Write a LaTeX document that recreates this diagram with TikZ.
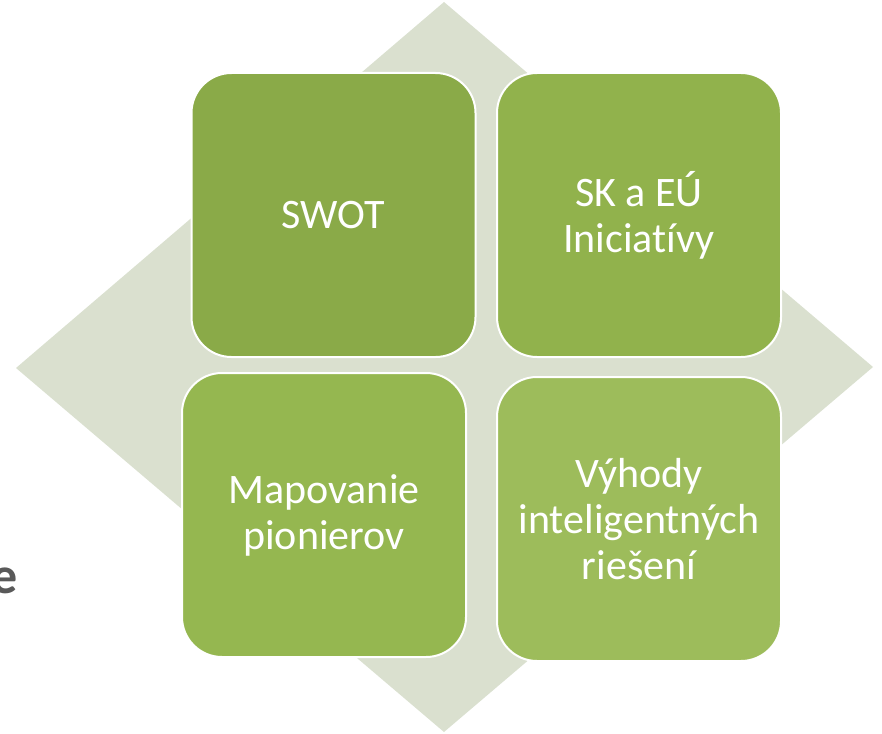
\documentclass[tikz,border=0pt]{standalone}
\usepackage{fontspec}
\setmainfont{Carlito}[Ligatures=NoCommon]

\definecolor{diamondgray}{HTML}{DAE0CF}
\definecolor{greenA}{HTML}{8AAA48}
\definecolor{greenB}{HTML}{91B24C}
\definecolor{greenC}{HTML}{95B750}
\definecolor{greenD}{HTML}{9DBC5B}
\definecolor{textgray}{HTML}{595959}

\tikzset{
    tile/.style={draw=white, line width=1pt, rounded corners=20pt,
        minimum width=142pt, minimum height=142pt, inner sep=4pt,
        align=center, text=white,
        font=\fontsize{21}{23}\selectfont},
}

\begin{document}
\begin{tikzpicture}[x=0.5pt, y=-0.5pt]

    \useasboundingbox (0,0) rectangle (882,733);

    % Background diamond
    \fill[diamondgray] (444,2) -- (873,367) -- (444,732) -- (16,368) -- cycle;

    % Tiles
    \node[tile, fill=greenA] (swot) at (333.5,215) {SWOT};
    \node[tile, fill=greenB] (iniciativy) at (639,215) {SK a EÚ\\Iniciatívy};
    \node[tile, fill=greenC] (mapovanie) at (324,515) {Mapovanie\\pionierov};
    \node[tile, fill=greenD] (vyhody) at (639,519) {Výhody\\inteligentných\\riešení};

    % Cut-off text on the left
    \node[anchor=base east, inner sep=0pt, text=textgray,
        font=\fontsize{26}{28}\selectfont\bfseries] (rest) at (18,593) {e};

\end{tikzpicture}
\end{document}
